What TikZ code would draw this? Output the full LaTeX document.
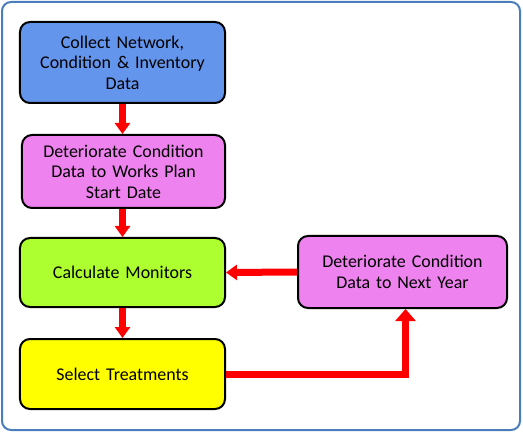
\documentclass[tikz,border=0pt]{standalone}
\usepackage{fontspec}
\setmainfont{Carlito}
\usetikzlibrary{arrows.meta,positioning}
\definecolor{frameblue}{HTML}{4A7EBB}
\definecolor{collectblue}{HTML}{6495ED}
\definecolor{stepviolet}{HTML}{EE82EE}
\definecolor{calcgreen}{HTML}{ADFF2F}
\definecolor{treatyellow}{HTML}{FFFF00}

\begin{document}
\begin{tikzpicture}[
  x=1bp, y=-1bp,
  box/.style={
    draw=black, line width=2bp, rounded corners=10bp,
    font=\fontsize{18}{20.5}\selectfont, text=black,
    align=center, text width=190bp, inner sep=0pt,
    minimum width=205bp, minimum height=70bp
  },
  flow/.style={-{Triangle[length=11bp, width=15bp]}, red, line width=7bp},
  bigflow/.style={-{Triangle[length=12bp, width=20bp]}, red, line width=7bp},
]
  \useasboundingbox (0,0) rectangle (523,433);

  % Rahmen
  \draw[frameblue, line width=2bp, rounded corners=9bp] (2,2) rectangle (520,430);

  % Linke Spalte
  \node[box, fill=collectblue, minimum height=81bp] (collect) at (122.5,62.5)
    {Collect Network,\\Condition \& Inventory\\Data};
  \node[box, fill=stepviolet, minimum width=203bp, minimum height=73bp] (startdate) at (123.5,171.5)
    {Deteriorate Condition\\Data to Works Plan\\Start Date};
  \node[box, fill=calcgreen, minimum height=69bp] (calc) at (122.5,272.5)
    {Calculate Monitors};
  \node[box, fill=treatyellow] (select) at (122.5,374)
    {Select Treatments};

  % Rechte Seite
  \node[box, fill=stepviolet, minimum width=209bp, minimum height=72bp] (nextyear) at (402.5,272)
    {Deteriorate Condition\\Data to Next Year};

  % Pfeile
  \draw[flow] (collect.south) -- (collect.south |- startdate.north);
  \draw[flow] (startdate.south -| collect.south) -- (calc.north);
  \draw[flow] (calc.south) -- (select.north);
  \draw[flow] (nextyear.west) -- (calc.east);
  \draw[bigflow] (select.east) -| ([xshift=3bp]nextyear.south);

\end{tikzpicture}
\end{document}
